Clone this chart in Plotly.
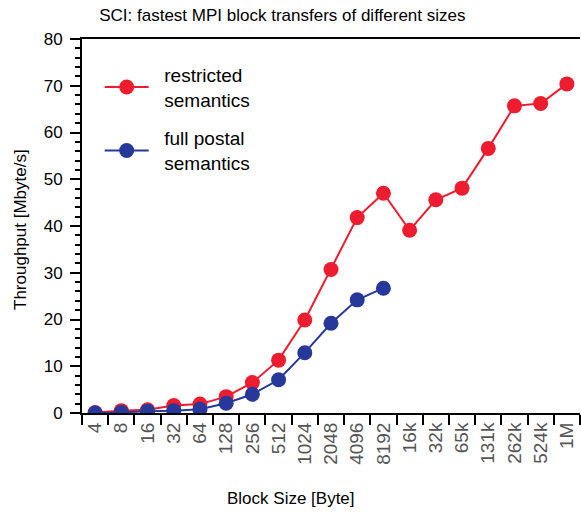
import plotly.graph_objects as go

block_sizes = ["4", "8", "16", "32", "64", "128", "256", "512", "1024", "2048", "4096",
               "8192", "16k", "32k", "65k", "131k", "262k", "524k", "1M"]
restricted = [0.1, 0.5, 0.7, 1.6, 1.9, 3.5, 6.5, 11.3, 19.9, 30.7, 41.8,
              47.0, 39.1, 45.6, 48.1, 56.6, 65.7, 66.2, 70.4]
full_postal_sizes = ["4", "8", "16", "32", "64", "128", "256", "512", "1024", "2048", "4096", "8192"]
full_postal = [0.0, 0.1, 0.4, 0.5, 0.8, 2.1, 4.0, 7.1, 12.9, 19.2, 24.2, 26.7]

RED = "#ED1C2E"
BLUE = "#26399A"
FONT = "Liberation Sans, Arial, sans-serif"
PAD = "&nbsp;&nbsp;"

fig = go.Figure()
fig.add_trace(go.Scatter(
    x=block_sizes, y=restricted, mode="lines+markers",
    name=PAD + "restricted<br>" + PAD + "semantics", legendgroup="a",
    line=dict(color=RED, width=2), marker=dict(color=RED, size=15)))
fig.add_trace(go.Scatter(
    x=full_postal_sizes, y=full_postal, mode="lines+markers",
    name=PAD + "full postal<br>" + PAD + "semantics", legendgroup="b",
    line=dict(color=BLUE, width=2), marker=dict(color=BLUE, size=15)))

fig.update_layout(
    width=581, height=520,
    margin=dict(l=82, r=1, t=39, b=107, autoexpand=False),
    paper_bgcolor="white", plot_bgcolor="white",
    font=dict(family=FONT, color="black"),
    title=dict(text="SCI: fastest MPI block transfers of different sizes",
               x=0.486, xanchor="center", xref="container",
               y=0.972, yanchor="middle",
               font=dict(size=17, color="black")),
    showlegend=True,
    legend=dict(x=0.0355, y=0.955, xanchor="left", yanchor="top",
                font=dict(size=19, color="black"), bgcolor="rgba(0,0,0,0)",
                tracegroupgap=11, itemwidth=44),
    xaxis=dict(
        type="category", categoryorder="array", categoryarray=block_sizes,
        range=[-0.5, 18.5], tickson="boundaries", automargin=False,
        showline=True, linecolor="black", linewidth=2, mirror=True,
        ticks="outside", ticklen=10, tickwidth=1.5, tickcolor="black",
        tickangle=-90, tickfont=dict(size=19, color="#555555"),
        showgrid=False, zeroline=False,
    ),
    yaxis=dict(
        range=[0, 80], dtick=10, tick0=0, automargin=False,
        showline=True, linecolor="black", linewidth=2,
        ticks="outside", ticklen=10, tickwidth=1.5, tickcolor="black",
        tickfont=dict(size=17, color="black"), ticklabelstandoff=4,
        minor=dict(dtick=2, ticks="outside", ticklen=5, tickwidth=1.5, tickcolor="black"),
        showgrid=False, zeroline=False,
    ),
    annotations=[
        dict(text="Block Size [Byte]", xref="paper", yref="paper",
             x=0.42, y=-0.228, xanchor="center", yanchor="middle",
             showarrow=False, font=dict(size=17, color="black")),
        dict(text="Throughput [Mbyte/s]", xref="paper", yref="paper",
             x=-0.124, y=0.49, xanchor="center", yanchor="middle", textangle=-90,
             showarrow=False, font=dict(size=17, color="black")),
    ],
)

fig.write_html("out.html", config={"displayModeBar": False},
               post_script="document.body.style.margin='0';")
